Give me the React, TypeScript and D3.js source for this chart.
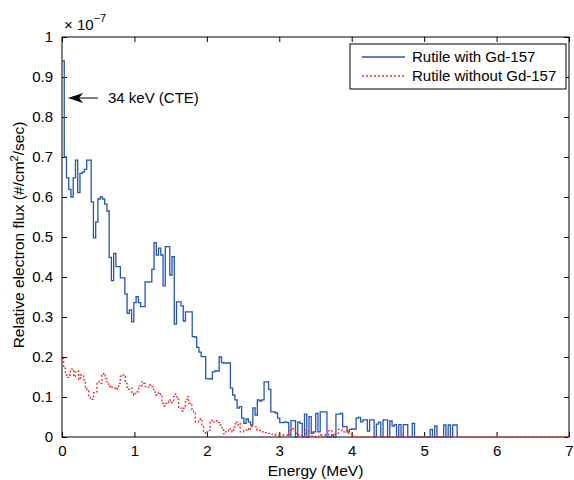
import React, { useRef, useEffect } from 'react';
import * as d3 from 'd3';

// axis ticks (flux is in units of 1e-7)
const xTicks = [0, 1, 2, 3, 4, 5, 6, 7];
const yTicks = [0, 0.1, 0.2, 0.3, 0.4, 0.5, 0.6, 0.7, 0.8, 0.9, 1];

const seriesNames = ['Rutile with Gd-157', 'Rutile without Gd-157'];

// histogram bin widths (MeV)
const blueBin = 0.031;
const redBin = 0.023;

// Rutile with Gd-157, one value per bin starting at 0 MeV
const blueFlux = [
  0.94, 0.70, 0.648, 0.619, 0.60, 0.648, 0.692, 0.611, 0.659, 0.662,
  0.669, 0.692, 0.692, 0.588, 0.498, 0.537, 0.595, 0.60, 0.595, 0.582,
  0.565, 0.449, 0.391, 0.459, 0.426, 0.426, 0.398, 0.398, 0.358, 0.309,
  0.318, 0.288, 0.336, 0.351, 0.336, 0.326, 0.326, 0.388, 0.387, 0.388,
  0.419, 0.486, 0.455, 0.472, 0.455, 0.378, 0.476, 0.476, 0.405, 0.451,
  0.282, 0.338, 0.338, 0.328, 0.29, 0.313, 0.313, 0.313, 0.251, 0.25,
  0.224, 0.212, 0.201, 0.201, 0.146, 0.146, 0.145, 0.163, 0.165, 0.165,
  0.2, 0.186, 0.185, 0.185, 0.185, 0.122, 0.105, 0.093, 0.072, 0.076,
  0.047, 0.034, 0.045, 0.038, 0.03, 0.073, 0.055, 0.093, 0.09, 0.093,
  0.138, 0.138, 0.119, 0.063, 0.063, 0.06, 0.047, 0.036, 0.036, 0.038,
  0.036, 0.005, 0.041, 0.041, 0, 0.038, 0.034, 0, 0.057, 0,
  0.051, 0.009, 0.013, 0.059, 0.013, 0.063, 0.063, 0.063, 0, 0,
  0.005, 0, 0.057, 0.057, 0.059, 0.026, 0.026, 0.013, 0.019, 0.02,
  0.02, 0.047, 0.049, 0.038, 0.043, 0.043, 0.015, 0.043, 0.043, 0,
  0.032, 0.037, 0, 0.043, 0.043, 0, 0.04, 0.027, 0.031, 0,
  0.031, 0, 0.031, 0.031, 0, 0, 0.034, 0, 0, 0,
  0, 0, 0, 0, 0.019, 0, 0.028, 0, 0, 0,
  0.03, 0, 0.03, 0, 0.03, 0.03,
];

// Rutile without Gd-157
const redFlux = [
  0.196, 0.172, 0.155, 0.149, 0.155, 0.167, 0.17, 0.151, 0.163, 0.165,
  0.143, 0.155, 0.155, 0.143, 0.122, 0.118, 0.101, 0.095, 0.094, 0.111,
  0.113, 0.134, 0.138, 0.134, 0.155, 0.159, 0.146, 0.134, 0.126, 0.128,
  0.124, 0.122, 0.119, 0.123, 0.134, 0.152, 0.155, 0.152, 0.134, 0.124,
  0.119, 0.122, 0.109, 0.105, 0.109, 0.113, 0.128, 0.126, 0.138, 0.134,
  0.126, 0.124, 0.13, 0.13, 0.126, 0.113, 0.105, 0.109, 0.111, 0.105,
  0.084, 0.078, 0.084, 0.086, 0.093, 0.086, 0.088, 0.101, 0.107, 0.095,
  0.072, 0.072, 0.065, 0.072, 0.088, 0.101, 0.084, 0.08, 0.068, 0.063,
  0.038, 0.038, 0.042, 0.046, 0.026, 0.011, 0.009, 0.013, 0.017, 0.041,
  0.042, 0.038, 0.041, 0.038, 0.036, 0.03, 0.022, 0.008, 0.013, 0.013,
  0.021, 0.017, 0.013, 0.025, 0.038, 0.03, 0.034, 0.013, 0.013, 0.017,
  0.017, 0.021, 0.017, 0.026, 0.026, 0.026, 0.026, 0.017, 0.017, 0.013,
  0.013, 0.011, 0.011, 0.011, 0.009, 0.009, 0.007, 0.007, 0.005, 0.005,
  0.005, 0.005, 0.005, 0.005, 0.005, 0.005, 0.017, 0.017, 0.021, 0.021,
  0.009, 0.009, 0.005, 0.005, 0, 0, 0.017, 0.017, 0.013, 0.013,
  0.002, 0.002, 0, 0, 0.005, 0.005, 0, 0, 0.005, 0.005,
  0.016, 0.016, 0.005, 0.005, 0.009, 0.009, 0.019, 0.019, 0.013, 0.013,
  0.016, 0.016, 0.007, 0.007, 0.002, 0.002, 0,
];

const font = '"Liberation Sans", Arial, Helvetica, sans-serif';

const toSteps = (values: number[], width: number): [number, number][] => {
  const pts: [number, number][] = values.map((v, i) => [i * width, v]);
  pts.push([values.length * width, values[values.length - 1]]);
  pts.push([values.length * width, 0]);
  return pts;
};

const FluxChart = () => {
  const svgRef = useRef<SVGSVGElement>(null);

  useEffect(() => {
    const W = 574, H = 480;
    const left = 62, right = 569, top = 37, bottom = 437;

    const svg = d3.select(svgRef.current)
      .attr('width', W)
      .attr('height', H)
      .style('position', 'absolute')
      .style('left', '0px')
      .style('top', '0px')
      .style('background', '#fff')
      .style('font-family', font);
    svg.selectAll('*').remove();

    const x = d3.scaleLinear().domain([0, 7]).range([left, right]);
    const y = d3.scaleLinear().domain([0, 1]).range([bottom, top]);

    // frame
    svg.append('rect')
      .attr('x', left).attr('y', top)
      .attr('width', right - left).attr('height', bottom - top)
      .attr('fill', '#fff').attr('stroke', '#000').attr('stroke-width', 1);

    const styleAxis = (g: any) => {
      g.select('.domain').remove();
      g.selectAll('line').attr('stroke', '#000');
      g.selectAll('text').attr('fill', '#000').style('font-size', '15px').style('font-family', font);
    };

    svg.append('g')
      .attr('transform', `translate(0,${bottom})`)
      .call(d3.axisBottom(x).tickValues(xTicks).tickSizeInner(-5).tickSizeOuter(0).tickPadding(8).tickFormat(d3.format('d')))
      .call(styleAxis);
    svg.append('g')
      .attr('transform', `translate(0,${top})`)
      .call(d3.axisTop(x).tickValues(xTicks).tickSizeInner(-5).tickSizeOuter(0).tickFormat(() => ''))
      .call(styleAxis);
    svg.append('g')
      .attr('transform', `translate(${left},0)`)
      .call(d3.axisLeft(y).tickValues(yTicks).tickSizeInner(-5).tickSizeOuter(0).tickPadding(9).tickFormat(d3.format('~g')))
      .call(styleAxis);
    svg.append('g')
      .attr('transform', `translate(${right},0)`)
      .call(d3.axisRight(y).tickValues(yTicks).tickSizeInner(-5).tickSizeOuter(0).tickFormat(() => ''))
      .call(styleAxis);

    // exponent
    const expo = svg.append('text')
      .attr('x', left + 2).attr('y', 30)
      .style('font-size', '15px').attr('fill', '#000');
    expo.append('tspan').text('\u00d7 10');
    expo.append('tspan').attr('dy', -8).style('font-size', '11px').text('\u22127');

    // axis labels
    svg.append('text')
      .attr('x', (left + right) / 2).attr('y', 476)
      .attr('text-anchor', 'middle')
      .style('font-size', '15.5px')
      .text('Energy (MeV)');

    const ylab = svg.append('text')
      .attr('transform', `translate(24,${(top + bottom) / 2 - 2}) rotate(-90)`)
      .attr('text-anchor', 'middle')
      .style('font-size', '15.5px');
    ylab.append('tspan').text('Relative electron flux (#/cm');
    ylab.append('tspan').attr('dy', -6).style('font-size', '11px').text('2');
    ylab.append('tspan').attr('dy', 6).text('/sec)');

    const line = d3.line<[number, number]>()
      .x(d => x(d[0]))
      .y(d => y(d[1]))
      .curve(d3.curveStepAfter);

    const redPts = toSteps(redFlux, redBin);
    redPts.push([7, 0]);

    svg.append('path')
      .attr('d', line(toSteps(blueFlux, blueBin)))
      .attr('fill', 'none')
      .attr('stroke', '#2456b0')
      .attr('stroke-width', 1.3);

    svg.append('path')
      .attr('d', line(redPts))
      .attr('fill', 'none')
      .attr('stroke', '#f2282c')
      .attr('stroke-width', 1.3)
      .attr('stroke-dasharray', '2,2');

    // annotation arrow
    const ax = 68, ay = 98;
    svg.append('line')
      .attr('x1', ax + 10).attr('y1', ay).attr('x2', 98).attr('y2', ay)
      .attr('stroke', '#000').attr('stroke-width', 1);
    svg.append('path')
      .attr('d', `M${ax},${ay} L${ax + 15},${ay - 5} L${ax + 11},${ay} L${ax + 15},${ay + 5} Z`)
      .attr('fill', '#000');
    svg.append('text')
      .attr('x', 108).attr('y', ay + 5)
      .style('font-size', '15px')
      .text('34 keV (CTE)');

    // legend
    const lg = svg.append('g');
    lg.append('rect')
      .attr('x', 350).attr('y', 44).attr('width', 216).attr('height', 45)
      .attr('fill', '#fff').attr('stroke', '#000').attr('stroke-width', 1);
    const rows = [
      { name: seriesNames[0], color: '#2456b0', dash: null, cy: 57 },
      { name: seriesNames[1], color: '#f2282c', dash: '2,2', cy: 76 },
    ];
    rows.forEach(r => {
      lg.append('line')
        .attr('x1', 362).attr('x2', 405).attr('y1', r.cy).attr('y2', r.cy)
        .attr('stroke', r.color).attr('stroke-width', 1.3)
        .attr('stroke-dasharray', r.dash);
      lg.append('text')
        .attr('x', 412).attr('y', r.cy + 5)
        .style('font-size', '15px')
        .text(r.name);
    });
  }, []);

  return <svg ref={svgRef}></svg>;
};

export default function App() {
  return <FluxChart />;
}
